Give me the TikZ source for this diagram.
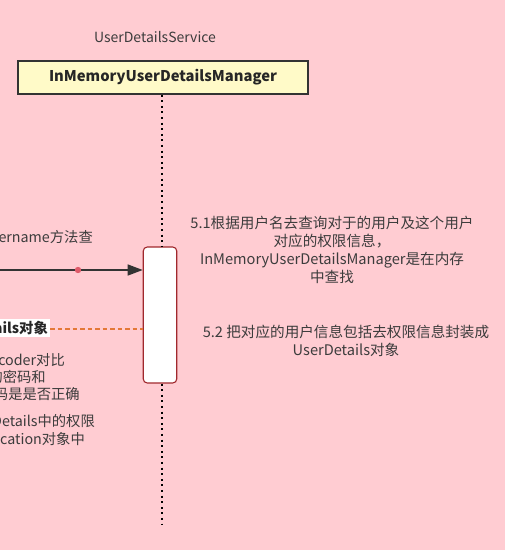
\documentclass[tikz,border=0pt]{standalone}
\usepackage{fontspec}
\setmainfont{Noto Sans CJK SC}
\usetikzlibrary{arrows.meta}
\definecolor{bgpink}{RGB}{255,204,210}
\definecolor{boxyellow}{RGB}{255,250,200}
\definecolor{txt}{RGB}{60,60,60}
\definecolor{actred}{RGB}{160,40,45}
\definecolor{dotred}{RGB}{222,90,105}
\definecolor{dashorange}{RGB}{228,120,55}
\tikzset{
  lbl/.style={font=\fontsize{14.6}{18}\selectfont, text=txt, inner sep=0pt, align=center},
  lefttxt/.style={font=\fontsize{14.3}{18}\selectfont, text=txt, inner sep=0pt, anchor=east},
  lifeline/.style={line width=2pt, dash pattern=on 2pt off 3.6pt, black},
  actbox/.style={draw=actred, fill=white, line width=1.1pt, rounded corners=4pt, minimum width=33.5pt, minimum height=136pt, inner sep=0pt},
  classbox/.style={draw=black!80, fill=boxyellow, line width=1.1pt, minimum width=290pt, minimum height=33pt, inner sep=0pt, font=\fontsize{14.8}{17}\selectfont\bfseries, text=black!85},
}
\begin{document}
\begin{tikzpicture}[x=1pt,y=-1pt]
\useasboundingbox (0,0) rectangle (505,550);
\fill[bgpink] (0,0) rectangle (505,550);
\clip (0,0) rectangle (505,550);

\node[lbl, font=\fontsize{14}{18}\selectfont] (svc) at (155,37) {UserDetailsService};
\node[classbox] (mgr) at (163,77.5) {InMemoryUserDetailsManager};
\node[actbox] (act) at (160,315) {};
\coordinate (lifeend) at (162,525);

\draw[lifeline] (mgr.south -| 162,0) -- (act.north -| 162,0);
\draw[lifeline] (act.south -| 162,0) -- (lifeend);

% incoming call arrow
\coordinate (callstart) at (-2,270);
\draw[line width=1.4pt, black!80, -{Triangle[length=15pt,width=11pt]}] (callstart) -- (callstart -| act.west);
\fill[dotred] (78,270) circle (3.2pt);
\node[lefttxt] (calltxt) at (93,238) {loadUserByUsername方法查};

% return
\node[lefttxt, fill=white, inner sep=2pt, font=\fontsize{14.3}{18}\selectfont\bfseries, text=black!85] (ret) at (50,328) {UserDetails对象};
\draw[dashorange, line width=1.1pt, dash pattern=on 4.5pt off 3pt] (ret.east |- 0,329) -- (act.west |- 0,329);

% left clipped texts
\node[lefttxt] (l1) at (65,360) {PasswordEncoder对比};
\node[lefttxt] (l2) at (46,377) {中的密码和};
\node[lefttxt] (l3) at (80,394) {中的密码是是否正确};
\node[lefttxt] (l4) at (95,421) {UserDetails中的权限};
\node[lefttxt] (l5) at (85,439) {Authentication对象中};

% notes
\node[lbl] (n51) at (332,249.5) {5.1根据用户名去查询对于的用户及这个用户\\对应的权限信息，\\InMemoryUserDetailsManager是在内存\\中查找};
\node[lbl] (n52) at (346,341) {5.2 把对应的用户信息包括去权限信息封装成\\UserDetails对象};
\end{tikzpicture}
\end{document}
